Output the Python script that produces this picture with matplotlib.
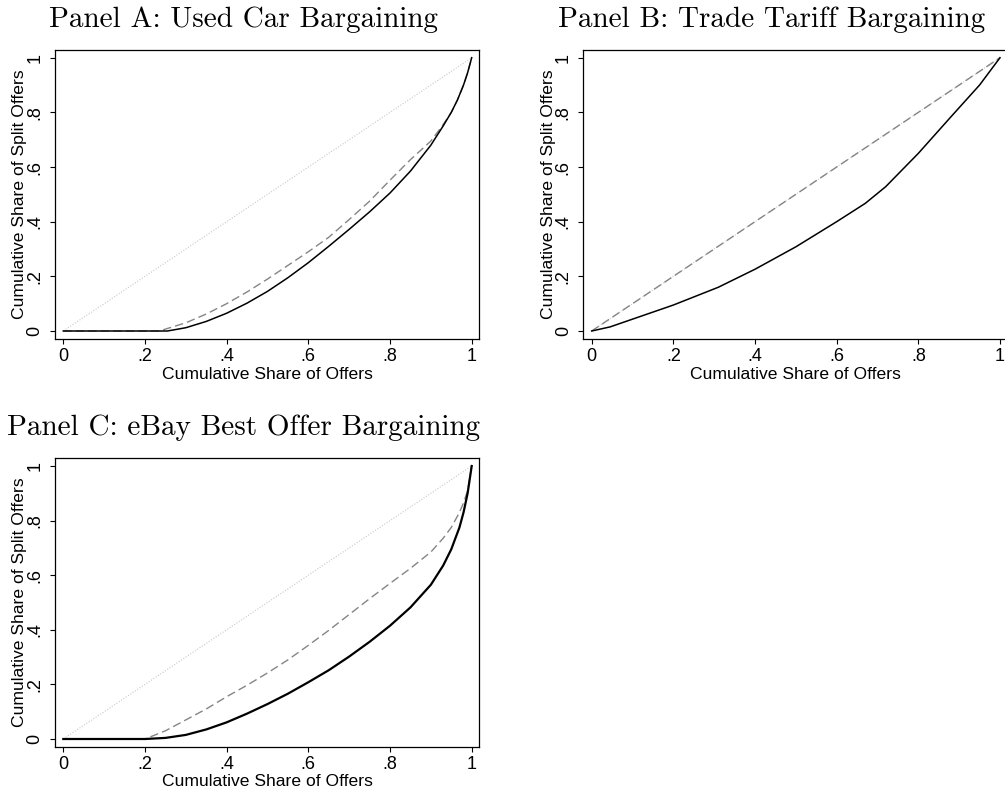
import numpy as np
import matplotlib
matplotlib.use('Agg')
import matplotlib.pyplot as plt

W, H = 1005, 791

# Panel A: used car bargaining
a_sol_x = [0, 0.255, 0.3, 0.35, 0.4, 0.45, 0.5, 0.55, 0.6, 0.65, 0.7, 0.75, 0.8, 0.85, 0.9, 0.93, 0.95, 0.965, 0.98, 0.99, 1.0]
a_sol_y = [0, 0, 0.012, 0.035, 0.065, 0.102, 0.145, 0.195, 0.25, 0.31, 0.372, 0.436, 0.505, 0.585, 0.68, 0.75, 0.80, 0.845, 0.90, 0.945, 1.0]
a_dash_x = [0, 0.235, 0.3, 0.35, 0.4, 0.45, 0.5, 0.55, 0.6, 0.65, 0.7, 0.75, 0.8, 0.85, 0.9, 0.93, 0.95, 0.965, 0.98, 0.99, 1.0]
a_dash_y = [0, 0, 0.03, 0.062, 0.10, 0.143, 0.19, 0.24, 0.29, 0.343, 0.408, 0.475, 0.552, 0.627, 0.695, 0.755, 0.80, 0.845, 0.90, 0.945, 1.0]

# Panel B: trade tariff bargaining
b_sol_x = [0, 0.045, 0.2, 0.31, 0.4, 0.5, 0.6, 0.67, 0.72, 0.8, 0.88, 0.95, 1.0]
b_sol_y = [0, 0.015, 0.095, 0.16, 0.226, 0.308, 0.40, 0.467, 0.528, 0.65, 0.784, 0.90, 1.0]
b_dash_x = [0, 1.0]
b_dash_y = [0, 1.0]

# Panel C: eBay best offer bargaining
c_sol_x = [0, 0.2, 0.25, 0.3, 0.35, 0.4, 0.45, 0.5, 0.55, 0.6, 0.65, 0.7, 0.75, 0.8, 0.85, 0.9, 0.93, 0.95, 0.97, 0.98, 0.99, 1.0]
c_sol_y = [0, 0, 0.004, 0.015, 0.035, 0.061, 0.093, 0.128, 0.166, 0.208, 0.252, 0.302, 0.356, 0.415, 0.482, 0.565, 0.635, 0.695, 0.775, 0.83, 0.90, 1.0]
c_dash_x = [0, 0.2, 0.25, 0.3, 0.35, 0.4, 0.45, 0.5, 0.55, 0.6, 0.65, 0.7, 0.75, 0.8, 0.85, 0.9, 0.93, 0.95, 0.97, 0.98, 0.99, 1.0]
c_dash_y = [0, 0, 0.03, 0.07, 0.11, 0.155, 0.197, 0.242, 0.29, 0.343, 0.398, 0.456, 0.514, 0.570, 0.625, 0.685, 0.735, 0.775, 0.83, 0.865, 0.91, 1.0]

titles = ['Panel A: Used Car Bargaining', 'Panel B: Trade Tariff Bargaining',
          'Panel C: eBay Best Offer Bargaining']
ticks = [0, 0.2, 0.4, 0.6, 0.8, 1.0]
ticklabels = ['0', '.2', '.4', '.6', '.8', '1']

plt.rcParams['font.family'] = ['Liberation Sans', 'DejaVu Sans']

fig = plt.figure(figsize=(W / 100, H / 100), dpi=100)


def make_axes(left, top, right, bottom, x0, x1, y0, y1):
    # frame in pixels, x0/x1/y0/y1 = pixel positions of data 0 and 1
    ax = fig.add_axes([left / W, (H - bottom) / H, (right - left) / W, (bottom - top) / H])
    sx = x1 - x0
    sy = y0 - y1
    ax.set_xlim(-(x0 - left) / sx, 1 + (right - x1) / sx)
    ax.set_ylim(-(bottom - y0) / sy, 1 + (y1 - top) / sy)
    return ax


panels = [
    (make_axes(55, 50, 479, 339, 63.3, 471.7, 331, 57.7), a_sol_x, a_sol_y, a_dash_x, a_dash_y, 1.1),
    (make_axes(583.3, 50, 1007.5, 339, 591.7, 1000, 331, 57.7), b_sol_x, b_sol_y, b_dash_x, b_dash_y, 1.1),
    (make_axes(55, 457.7, 479, 746.7, 63.3, 471.7, 739, 466), c_sol_x, c_sol_y, c_dash_x, c_dash_y, 1.6),
]

for ax, sx, sy, dx, dy, lw in panels:
    ax.plot([0, 1], [0, 1], color='#c8c8c8', lw=0.8, ls=(0, (1, 1.5)))
    ax.plot(dx, dy, color='#858585', lw=1.0, ls=(0, (6, 3)))
    ax.plot(sx, sy, color='black', lw=lw, solid_joinstyle='round')
    ax.set_xticks(ticks)
    ax.set_xticklabels(ticklabels)
    ax.set_yticks(ticks)
    ax.set_yticklabels(ticklabels, rotation=90, va='center')
    ax.tick_params(direction='out', length=3.6, width=0.8, labelsize=13, pad=3)
    ax.tick_params(axis='y', pad=4.7)
    for s in ax.spines.values():
        s.set_linewidth(0.9)
    ax.set_xlabel('Cumulative Share of Offers', fontsize=12.6, labelpad=1)
    ax.set_ylabel('Cumulative Share of Split Offers', fontsize=12.6)
    ax.yaxis.label.set_va('center')
    ax.yaxis.set_label_coords(-0.083, 0.5)

title_kw = dict(fontsize=21, family=['cmr10', 'DejaVu Serif'], ha='center', va='baseline')
fig.text(243 / W, 1 - 27 / H, titles[0], **title_kw)
fig.text(772 / W, 1 - 27 / H, titles[1], **title_kw)
fig.text(244 / W, 1 - 435 / H, titles[2], **title_kw)

fig.savefig('out.png', dpi=100)
